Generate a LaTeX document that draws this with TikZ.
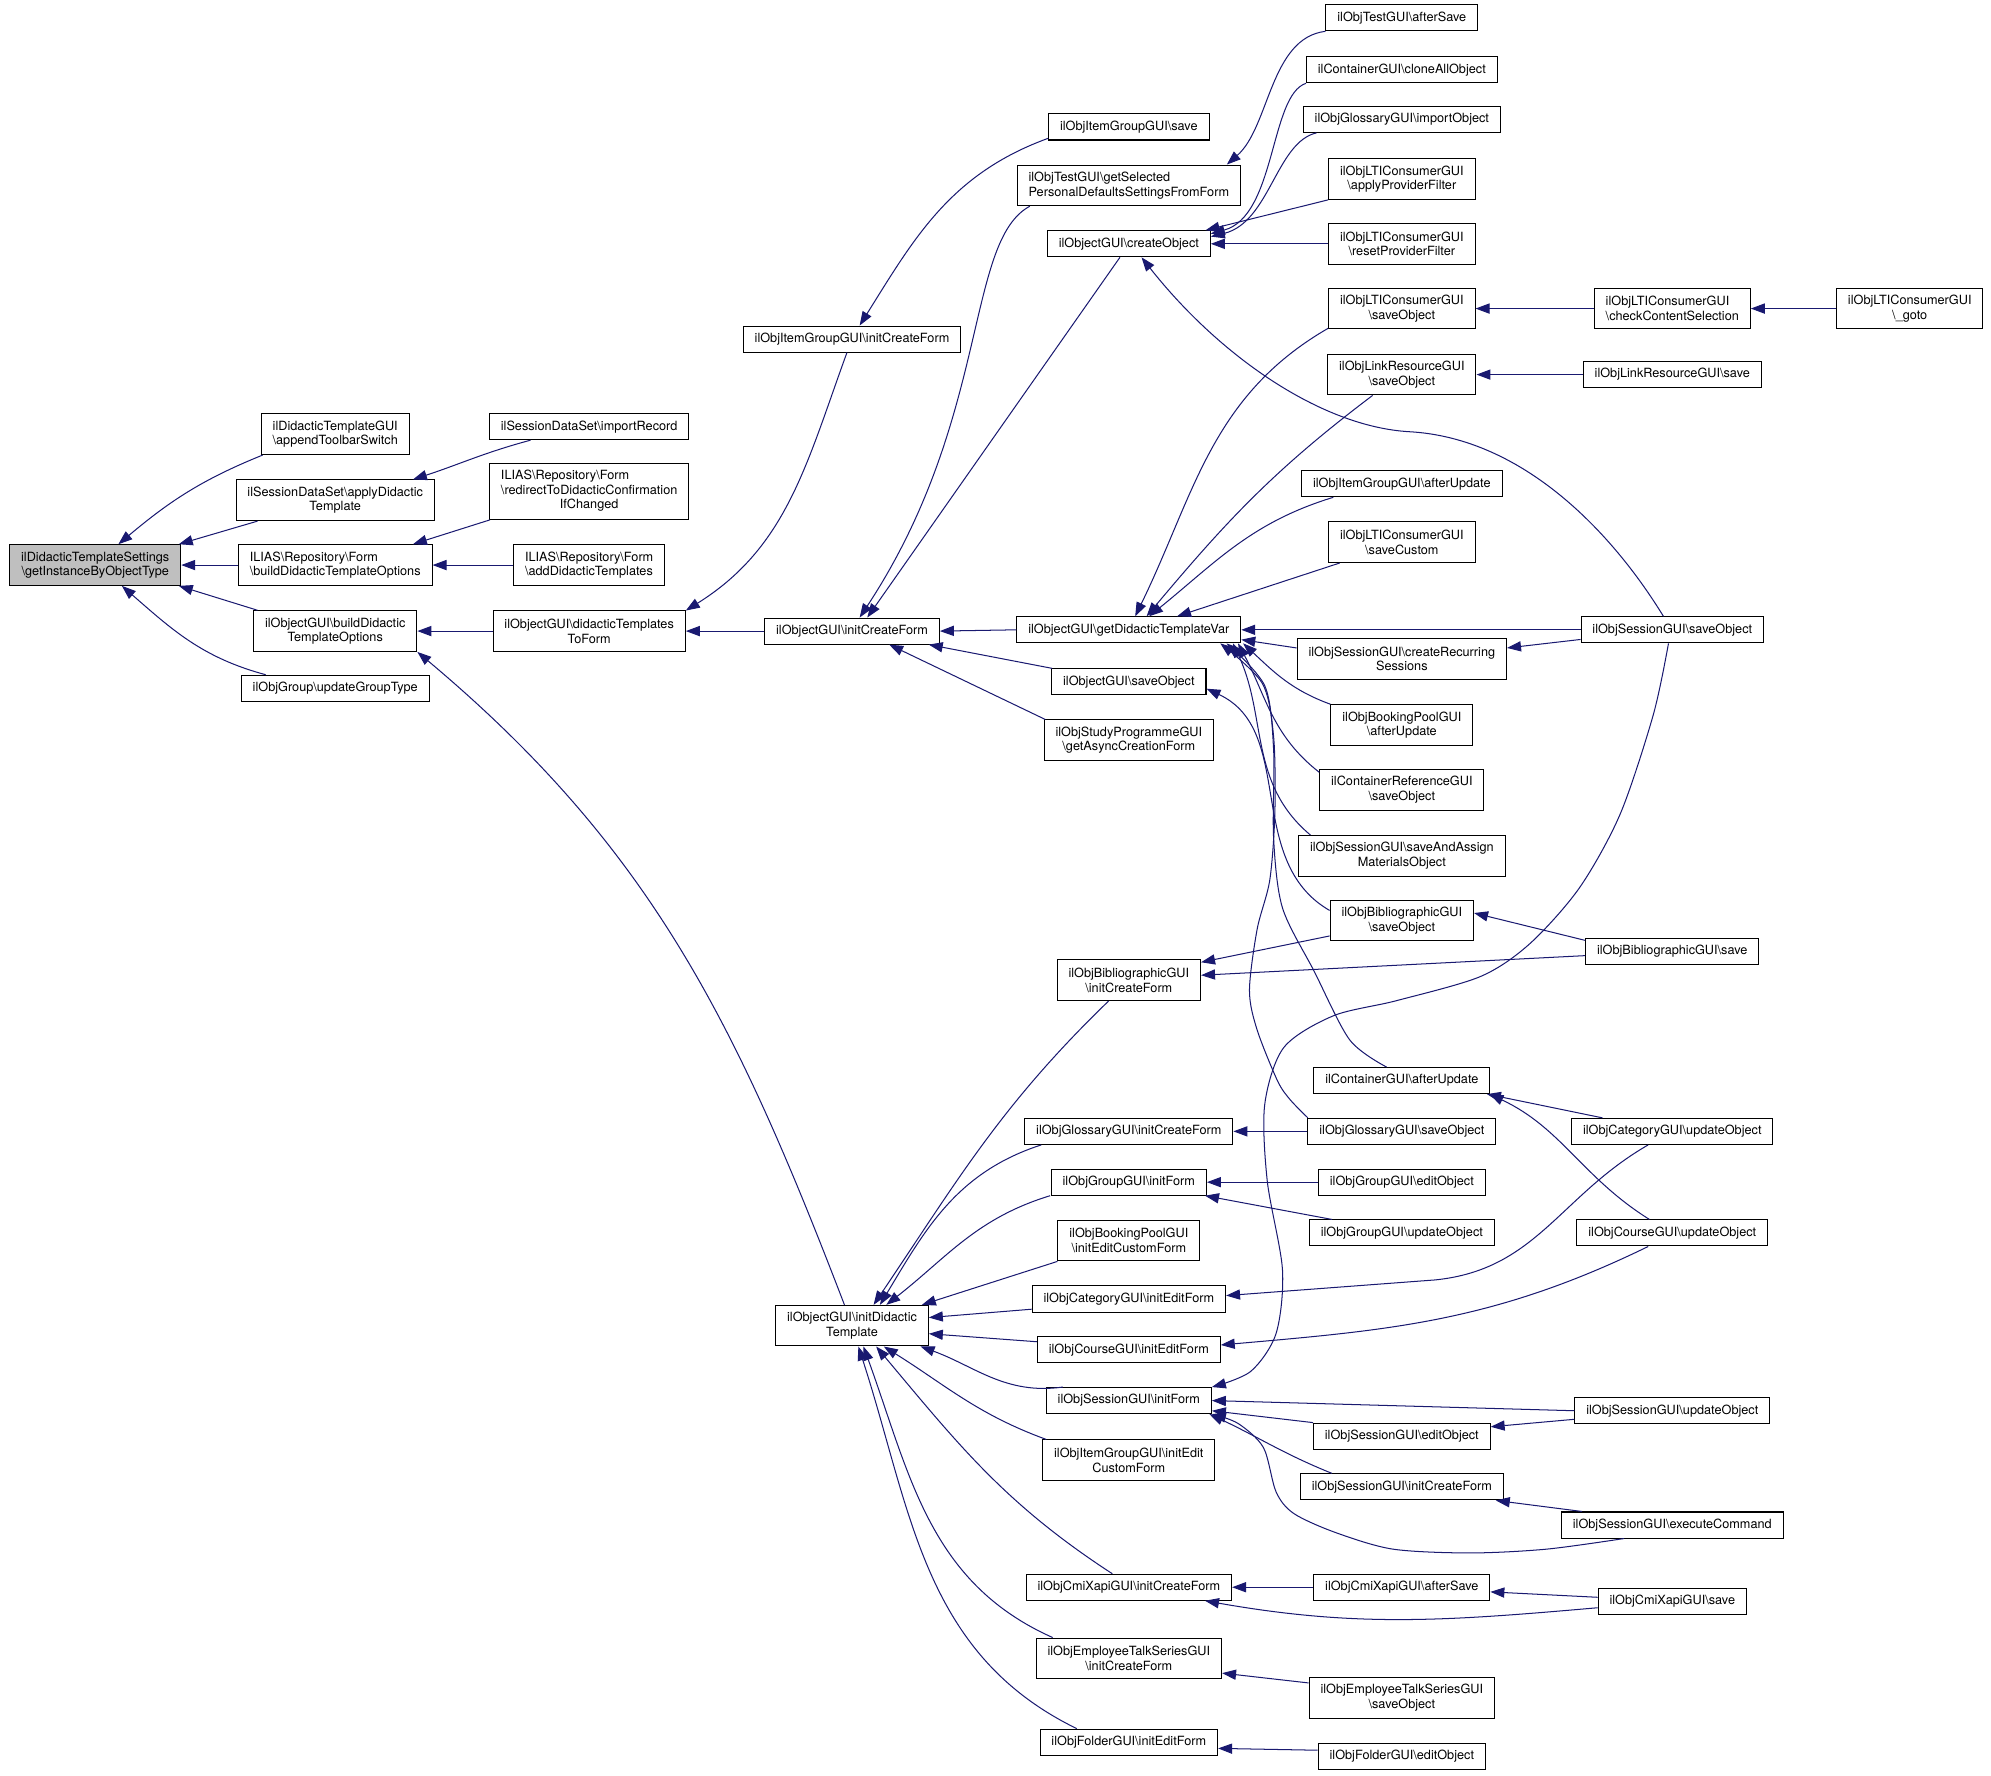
\documentclass[tikz,border=0pt]{standalone}
\usepackage{fontspec}
\setmainfont{TeX Gyre Heros}
\usetikzlibrary{arrows.meta}
\definecolor{navyline}{RGB}{25,25,112}
\definecolor{rootgray}{RGB}{191,191,191}
\newcommand{\bsol}{\textbackslash}

\tikzset{
  fn/.style={draw=black,line width=0.8pt,rectangle,fill=white,inner xsep=9pt,inner ysep=1pt,
    minimum height=20.5pt,align=center,font=\fontsize{10}{11.5}\selectfont},
  fn2/.style={fn,minimum height=32pt},
  fn3/.style={fn,minimum height=44pt}
}

\begin{document}
\begin{tikzpicture}[x=1pt,y=1pt]
  \useasboundingbox (0,0) rectangle (1568,-1398);

  % the function itself:
  \node[fn2,fill=rootgray] (root) at (75,-445) {ilDidacticTemplateSettings\\\bsol getInstanceByObjectType};

  % direct callers:
  \node[fn2] (A1) at (264,-342) {ilDidacticTemplateGUI\\\bsol appendToolbarSwitch};
  \node[fn2] (A2) at (264,-394) {ilSessionDataSet\bsol applyDidactic\\Template};
  \node[fn2,align=left] (A3) at (264,-445) {ILIAS\bsol Repository\bsol Form\\\bsol buildDidacticTemplateOptions};
  \node[fn2] (A4) at (264,-497) {ilObjectGUI\bsol buildDidactic\\TemplateOptions};
  \node[fn] (A5) at (264,-542) {ilObjGroup\bsol updateGroupType};

  \node[fn] (B1) at (464,-336) {ilSessionDataSet\bsol importRecord};
  \node[fn3] (B2) at (464,-387) {\begin{tabular}{@{}l@{}}ILIAS\bsol Repository\bsol Form\\\bsol redirectToDidacticConfirmation\\\multicolumn{1}{@{}c@{}}{IfChanged}\end{tabular}};
  \node[fn2,align=left] (B3) at (464,-445) {ILIAS\bsol Repository\bsol Form\\\bsol addDidacticTemplates};
  \node[fn2] (B4) at (464,-497) {ilObjectGUI\bsol didacticTemplates\\ToForm};

  \node[fn] (C1) at (671,-267) {ilObjItemGroupGUI\bsol initCreateForm};
  \node[fn] (C2) at (671,-497) {ilObjectGUI\bsol initCreateForm};
  \node[fn2] (C3) at (671,-1044) {ilObjectGUI\bsol initDidactic\\Template};

  \node[fn] (D1) at (889,-100) {ilObjItemGroupGUI\bsol save};
  \node[fn2,align=left] (D2) at (889,-146) {ilObjTestGUI\bsol getSelected\\PersonalDefaultsSettingsFromForm};
  \node[fn] (D3) at (889,-192) {ilObjectGUI\bsol createObject};
  \node[fn] (D4) at (889,-496) {ilObjectGUI\bsol getDidacticTemplateVar};
  \node[fn] (D5) at (889,-537) {ilObjectGUI\bsol saveObject};
  \node[fn2] (D6) at (889,-583) {ilObjStudyProgrammeGUI\\\bsol getAsyncCreationForm};
  \node[fn2] (D7) at (889,-772) {ilObjBibliographicGUI\\\bsol initCreateForm};
  \node[fn] (D8) at (889,-891) {ilObjGlossaryGUI\bsol initCreateForm};
  \node[fn] (D9) at (889,-931) {ilObjGroupGUI\bsol initForm};
  \node[fn2] (D10) at (889,-977) {ilObjBookingPoolGUI\\\bsol initEditCustomForm};
  \node[fn] (D11) at (889,-1023) {ilObjCategoryGUI\bsol initEditForm};
  \node[fn] (D12) at (889,-1063) {ilObjCourseGUI\bsol initEditForm};
  \node[fn] (D13) at (889,-1103) {ilObjSessionGUI\bsol initForm};
  \node[fn2] (D14) at (889,-1150) {ilObjItemGroupGUI\bsol initEdit\\CustomForm};
  \node[fn] (D15) at (889,-1250) {ilObjCmiXapiGUI\bsol initCreateForm};
  \node[fn2] (D16) at (889,-1306) {ilObjEmployeeTalkSeriesGUI\\\bsol initCreateForm};
  \node[fn] (D17) at (889,-1372) {ilObjFolderGUI\bsol initEditForm};

  \node[fn] (E1) at (1104,-14) {ilObjTestGUI\bsol afterSave};
  \node[fn] (E2) at (1104,-55) {ilContainerGUI\bsol cloneAllObject};
  \node[fn] (E3) at (1104,-94) {ilObjGlossaryGUI\bsol importObject};
  \node[fn2] (E4) at (1104,-141) {ilObjLTIConsumerGUI\\\bsol applyProviderFilter};
  \node[fn2] (E5) at (1104,-192) {ilObjLTIConsumerGUI\\\bsol resetProviderFilter};
  \node[fn2] (E6) at (1104,-243) {ilObjLTIConsumerGUI\\\bsol saveObject};
  \node[fn2] (E7) at (1104,-295) {ilObjLinkResourceGUI\\\bsol saveObject};
  \node[fn] (E8) at (1104,-381) {ilObjItemGroupGUI\bsol afterUpdate};
  \node[fn2] (E9) at (1104,-427) {ilObjLTIConsumerGUI\\\bsol saveCustom};
  \node[fn2] (E10) at (1104,-519) {ilObjSessionGUI\bsol createRecurring\\Sessions};
  \node[fn2] (E11) at (1104,-571) {ilObjBookingPoolGUI\\\bsol afterUpdate};
  \node[fn2] (E12) at (1104,-622) {ilContainerReferenceGUI\\\bsol saveObject};
  \node[fn2] (E13) at (1104,-674) {ilObjSessionGUI\bsol saveAndAssign\\MaterialsObject};
  \node[fn2] (E14) at (1104,-725) {ilObjBibliographicGUI\\\bsol saveObject};
  \node[fn] (E15) at (1104,-851) {ilContainerGUI\bsol afterUpdate};
  \node[fn] (E16) at (1104,-891) {ilObjGlossaryGUI\bsol saveObject};
  \node[fn] (E17) at (1104,-931) {ilObjGroupGUI\bsol editObject};
  \node[fn] (E18) at (1104,-971) {ilObjGroupGUI\bsol updateObject};
  \node[fn] (E19) at (1104,-1131) {ilObjSessionGUI\bsol editObject};
  \node[fn] (E20) at (1104,-1171) {ilObjSessionGUI\bsol initCreateForm};
  \node[fn] (E21) at (1104,-1250) {ilObjCmiXapiGUI\bsol afterSave};
  \node[fn2] (E22) at (1104,-1337) {ilObjEmployeeTalkSeriesGUI\\\bsol saveObject};
  \node[fn] (E23) at (1104,-1383) {ilObjFolderGUI\bsol editObject};

  \node[fn2,align=left] (F1) at (1317,-243) {ilObjLTIConsumerGUI\\\bsol checkContentSelection};
  \node[fn] (F2) at (1317,-295) {ilObjLinkResourceGUI\bsol save};
  \node[fn] (F3) at (1317,-496) {ilObjSessionGUI\bsol saveObject};
  \node[fn] (F4) at (1317,-749) {ilObjBibliographicGUI\bsol save};
  \node[fn] (F5) at (1317,-891) {ilObjCategoryGUI\bsol updateObject};
  \node[fn] (F6) at (1317,-971) {ilObjCourseGUI\bsol updateObject};
  \node[fn] (F7) at (1317,-1111) {ilObjSessionGUI\bsol updateObject};
  \node[fn] (F8) at (1317,-1201) {ilObjSessionGUI\bsol executeCommand};
  \node[fn] (F9) at (1317,-1261) {ilObjCmiXapiGUI\bsol save};

  \node[fn2] (G1) at (1504,-243) {ilObjLTIConsumerGUI\\\bsol\_goto};

  \begin{scope}[navyline,line width=0.8pt,>={Triangle[length=11pt,width=8pt]}]
      % into getInstanceByObjectType:
      \draw (A1.196) edge[->,out=202,in=40] (root.42);
      \draw (A2.195) edge[->] (root.14);
      \draw (A3.west) edge[->] (root.east);
      \draw (A4.165) edge[->] (root.-14);
      \draw (A5.169) edge[->,out=165,in=-41] (root.-38);
      % second level:
      \draw (B1.193) edge[->,out=195,in=18] (A2.15);
      \draw (B2.196) edge[->] (A3.15);
      \draw (B3.west) edge[->] (A3.east);
      \draw (B4.west) edge[->] (A4.east);
      \draw (C3.110) edge[->,out=111,in=-40] (A4.south east);
      \draw ([xshift=-4pt]C1.south) edge[->,out=250,in=32] (B4.12);
      \draw (C2.west) edge[->] (B4.east);
      \draw (D1.188) edge[->,out=200,in=58] ([xshift=6pt]C1.north);
      % into initCreateForm:
      \draw[->] ([xshift=-78pt]D2.south) .. controls (760,-190) and (780,-330) .. ([xshift=6pt]C2.north);
      \draw[->] ([xshift=-7pt]D3.south) -- ([xshift=12pt]C2.north);
      \draw[->] (D4.west) -- (C2.east);
      \draw[->] (D5.170) -- (C2.-10);
      \draw[->] (D6.166) -- (C2.-20);
      % into getSelected and createObject:
      \draw[->] (E1.south west) .. controls (1000,-30) and (1000,-100) .. (D2.12);
      \draw[->] (E2.188) .. controls (1000,-75) and (1005,-170) .. (D3.7);
      \draw[->] (E3.189) .. controls (1005,-112) and (1000,-175) .. (D3.5);
      \draw[->] (E4.south west) -- (D3.10);
      \draw[->] (E5.west) -- (D3.east);
      \draw[->] ([xshift=-7pt]F3.north) .. controls (1270,-420) and (1200,-345) .. (1110,-340)
          .. controls (1040,-336) and (960,-280) .. ([xshift=10pt]D3.south);
      % into getDidacticTemplateVar:
      \draw[->] (E6.195) to[out=210,in=64] ([xshift=5pt]D4.north);
      \draw[->] ([xshift=-23pt]E7.south) to[out=217,in=50] ([xshift=14pt]D4.north);
      \draw[->] ([xshift=-54pt]E8.south) to[out=197,in=39] ([xshift=16pt]D4.north);
      \draw[->] ([xshift=-49pt]E9.south) -- ([xshift=38pt]D4.north);
      \draw[->] (F3.west) -- (D4.east);
      \draw[->] (E10.174) -- (D4.-5);
      \draw[->] (E11.north west) to[out=160,in=-43] ([xshift=90pt]D4.south);
      \draw[->] (E12.168) to[out=142,in=-62] ([xshift=86pt]D4.south);
      \draw[->] ([xshift=-72pt]E13.north) to[out=140,in=-65] ([xshift=82pt]D4.south);
      \draw[->] plot[smooth] coordinates {([xshift=-12pt]E15.north) (1063,-819) (1035,-765)
          (1010,-715) (1003,-660) (1003,-590) (996,-540) ([xshift=77pt]D4.south)};
      \draw[->] plot[smooth] coordinates {([xshift=-74pt]E16.north) (1016,-866) (1006,-851)
          (990,-811) (984,-780) (990,-732) (1000,-693) (1004,-640) (1003,-580) (994,-538)
          ([xshift=72pt]D4.south)};
      % saveObject and the bibliographic forms:
      \draw[->] (E14.172) to[out=150,in=-25] (D5.-5);
      \draw[->] (E14.192) -- (D7.14);
      \draw[->] (F4.183) -- (D7.4);
      \draw[->] (F4.173) -- (E14.6);
      \draw[->] (E16.west) -- (D8.east);
      \draw[->] (E17.west) -- (D9.east);
      \draw[->] ([xshift=-55pt]E18.north) -- ([xshift=60pt]D9.south);
      % category and course:
      \draw[->] ([xshift=-19pt]F5.south) .. controls (1228,-942) and (1210,-1000) .. (1130,-1008) -- (D11.2);
      \draw[->] ([xshift=-19pt]F6.south) to[out=206,in=5] (D12.3);
      \draw[->] ([xshift=-55pt]F5.north) -- ([xshift=67pt]E15.south);
      \draw[->] ([xshift=-18pt]F6.north) to[out=148,in=-25] ([xshift=69pt]E15.south);
      % session:
      \draw[->] plot[smooth] coordinates {([xshift=-3pt]F3.south) (1302,-563) (1276,-641)
          (1244,-699) (1205,-743) (1166,-769) (1100,-788) (1050,-800) (1011,-825) (996,-870)
          (998,-930) (1010,-1000) (1005,-1050) (985,-1080) (D13.north east)};
      \draw[->] (F7.west) -- (D13.east);
      \draw[->] (E19.north west) -- (D13.-7);
      \draw[->] ([xshift=-55pt]E20.north) to[out=158,in=-25] ([xshift=-2pt]D13.south east);
      \draw[->] plot[smooth] coordinates {([xshift=-38pt]F8.south) (1218,-1220) (1158,-1223)
          (1097,-1220) (1052,-1207) (1019,-1192) (1005,-1175) (995,-1140) (975,-1121)
          (D13.south east)};
      \draw[->] (F7.185) -- (E19.6);
      \draw[->] ([xshift=-71pt]F8.north) -- ([xshift=74pt]E20.south);
      % cmi5, talks, folder:
      \draw[->] (E21.west) -- (D15.east);
      \draw[->] (F9.185) to[out=185,in=-10] ([xshift=60pt]D15.south);
      \draw[->] (F9.177) -- (E21.-3);
      \draw[->] (E22.171) -- (D16.-9);
      \draw[->] (E23.176) -- (D17.-4);
      % LTI and link resource:
      \draw[->] (F1.west) -- (E6.east);
      \draw[->] (G1.west) -- (F1.east);
      \draw[->] (F2.west) -- (E7.east);
      \draw[->] (F3.186) -- (E10.6);
      % into initDidacticTemplate:
      \draw[->] ([xshift=-16pt]D7.south) to[out=224,in=56] ([xshift=17pt]C3.north);
      \draw[->] ([xshift=-69pt]D8.south) to[out=198,in=59] ([xshift=22pt]C3.north);
      \draw[->] ([xshift=-62pt]D9.south) to[out=197,in=38] ([xshift=27pt]C3.north);
      \draw[->] (D10.south west) -- ([xshift=55pt]C3.north);
      \draw[->] (D11.186) -- (C3.6);
      \draw[->] (D12.175) -- (C3.-6);
      \draw[->] ([xshift=-52pt]D13.north) to[out=188,in=-20] ([xshift=54pt]C3.south);
      \draw[->] ([xshift=-65pt]D14.north) to[out=160,in=-32] ([xshift=25pt]C3.south);
      \draw[->] ([xshift=-13pt]D15.north) to[out=147,in=-50] ([xshift=19pt]C3.south);
      \draw[->] ([xshift=-60pt]D16.north) to[out=156,in=-70] ([xshift=9pt]C3.south);
      \draw[->] ([xshift=-41pt]D17.north) to[out=154,in=-72] ([xshift=5pt]C3.south);
  \end{scope}
\end{tikzpicture}
\end{document}
